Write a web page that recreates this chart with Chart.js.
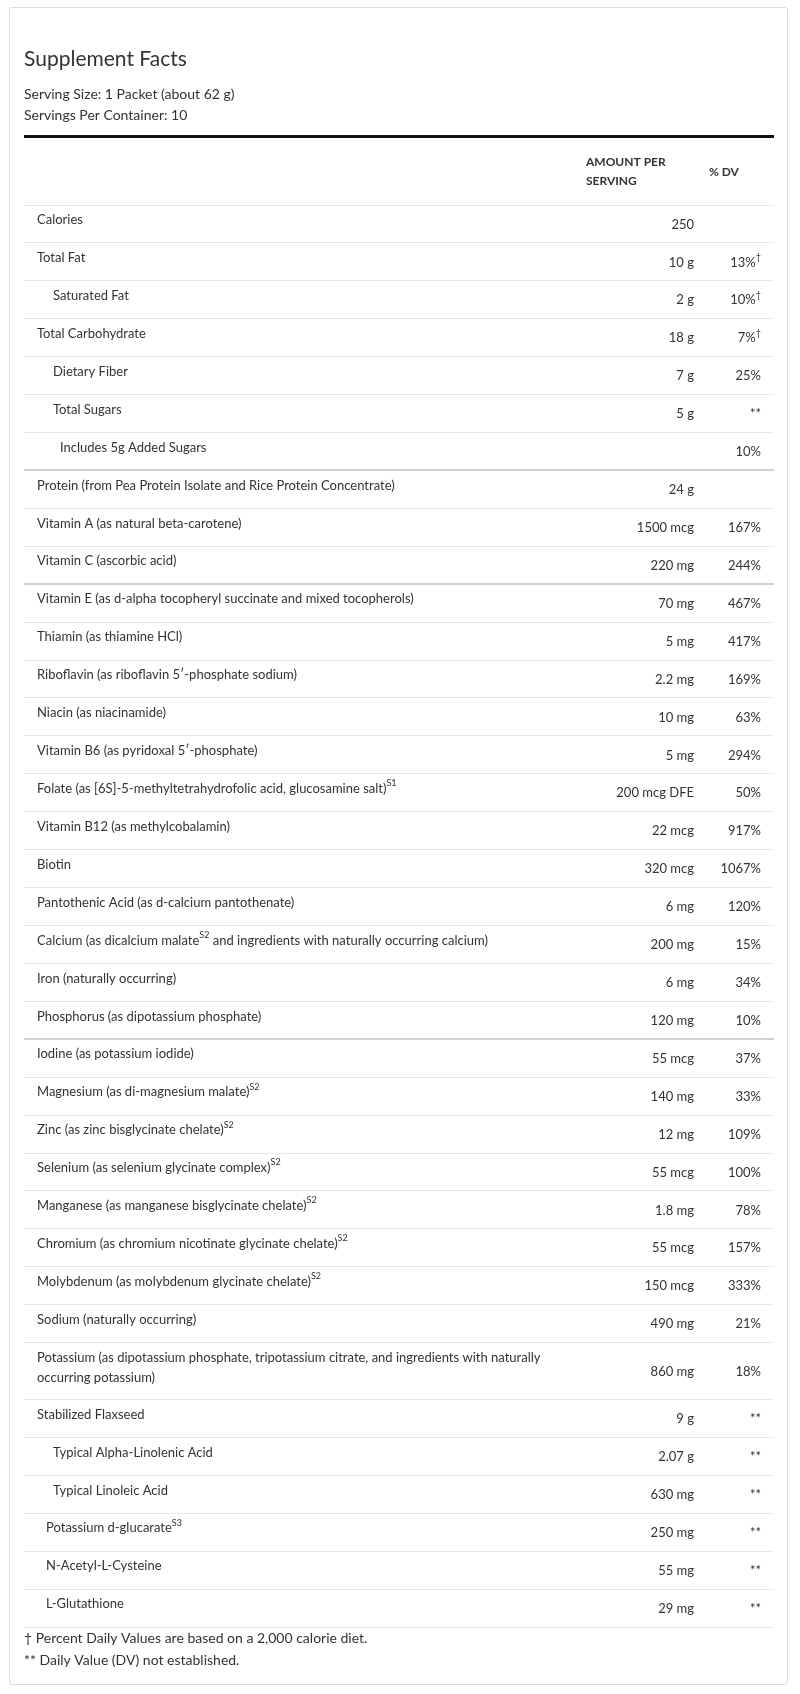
<!DOCTYPE html>
<html>
<head>
<meta charset="utf-8">
<title>Supplement Facts</title>
<script src="https://cdn.jsdelivr.net/npm/chart.js@4.4.1/dist/chart.umd.min.js"></script>
<style>
  html, body { margin: 0; padding: 0; background: #fff; }
  #card { position: absolute; left: 9px; top: 7px; width: 777px; height: 1676px; border: 1px solid #dedede; border-radius: 3px; }
  #factsChart { position: absolute; left: 0; top: 0; }
</style>
</head>
<body>
<div id="card"></div>
<canvas id="factsChart" width="800" height="1694"></canvas>
<script>
// {..} marks superscript text, \n marks a line break inside a cell
const nutrients = [
  'Calories',
  'Total Fat',
  'Saturated Fat',
  'Total Carbohydrate',
  'Dietary Fiber',
  'Total Sugars',
  'Includes 5g Added Sugars',
  'Protein (from Pea Protein Isolate and Rice Protein Concentrate)',
  'Vitamin A (as natural beta-carotene)',
  'Vitamin C (ascorbic acid)',
  'Vitamin E (as d-alpha tocopheryl succinate and mixed tocopherols)',
  'Thiamin (as thiamine HCl)',
  'Riboflavin (as riboflavin 5′-phosphate sodium)',
  'Niacin (as niacinamide)',
  'Vitamin B6 (as pyridoxal 5′-phosphate)',
  'Folate (as [6S]-5-methyltetrahydrofolic acid, glucosamine salt){S1}',
  'Vitamin B12 (as methylcobalamin)',
  'Biotin',
  'Pantothenic Acid (as d-calcium pantothenate)',
  'Calcium (as dicalcium malate{S2} and ingredients with naturally occurring calcium)',
  'Iron (naturally occurring)',
  'Phosphorus (as dipotassium phosphate)',
  'Iodine (as potassium iodide)',
  'Magnesium (as di-magnesium malate){S2}',
  'Zinc (as zinc bisglycinate chelate){S2}',
  'Selenium (as selenium glycinate complex){S2}',
  'Manganese (as manganese bisglycinate chelate){S2}',
  'Chromium (as chromium nicotinate glycinate chelate){S2}',
  'Molybdenum (as molybdenum glycinate chelate){S2}',
  'Sodium (naturally occurring)',
  'Potassium (as dipotassium phosphate, tripotassium citrate, and ingredients with naturally\noccurring potassium)',
  'Stabilized Flaxseed',
  'Typical Alpha-Linolenic Acid',
  'Typical Linoleic Acid',
  'Potassium d-glucarate{S3}',
  'N-Acetyl-L-Cysteine',
  'L-Glutathione'
];

const amounts = [
  '250', '10 g', '2 g', '18 g', '7 g', '5 g', '',
  '24 g', '1500 mcg', '220 mg', '70 mg', '5 mg', '2.2 mg', '10 mg', '5 mg',
  '200 mcg DFE', '22 mcg', '320 mcg', '6 mg', '200 mg', '6 mg', '120 mg',
  '55 mcg', '140 mg', '12 mg', '55 mcg', '1.8 mg', '55 mcg', '150 mcg',
  '490 mg', '860 mg', '9 g', '2.07 g', '630 mg', '250 mg', '55 mg', '29 mg'
];

const dailyValues = [
  '', '13%{†}', '10%{†}', '7%{†}', '25%', '**', '10%',
  '', '167%', '244%', '467%', '417%', '169%', '63%', '294%',
  '50%', '917%', '1067%', '120%', '15%', '34%', '10%',
  '37%', '33%', '109%', '100%', '78%', '157%', '333%',
  '21%', '18%', '**', '**', '**', '**', '**', '**'
];

// nesting of each row under the one above it
const indentLevels = [
  0, 0, 1, 0, 1, 1, 2,
  0, 0, 0, 0, 0, 0, 0, 0,
  0, 0, 0, 0, 0, 0, 0,
  0, 0, 0, 0, 0, 0, 0,
  0, 0, 0, 1, 1, 0.5, 0.5, 0.5
];

// a darker rule follows these rows (1-based count)
const sectionEnds = [7, 10, 22];

const servingLines = ['Serving Size: 1 Packet (about 62 g)', 'Servings Per Container: 10'];
const footnotes = ['† Percent Daily Values are based on a 2,000 calorie diet.', '** Daily Value (DV) not established.'];

// row extents on the y scale: one unit per text line plus one
const lineCounts = nutrients.map(n => n.split('\n').length);
const rowStarts = [];
let acc = 0;
lineCounts.forEach(c => { rowStarts.push(acc); acc += c + 1; });
const totalUnits = acc;
const rowEdges = rowStarts.concat([totalUnits]);
const heavyEdges = sectionEnds.map(k => rowStarts[k]);

const TEXT = '#333';
const FONT = 'Lato';
const indentPx = { 0: 13, 0.5: 22, 1: 29, 2: 36 };

function drawRich(ctx, text, x, y, align, size) {
  const parts = text.split(/(\{[^}]*\})/).filter(Boolean).map(p =>
    p.startsWith('{') ? { sup: true, t: p.slice(1, -1) } : { sup: false, t: p });
  const fontFor = p => (p.sup ? Math.round(size * 0.7) : size) + 'px ' + FONT;
  let w = 0;
  parts.forEach(p => { ctx.font = fontFor(p); w += ctx.measureText(p.t).width; });
  let cx = align === 'right' ? x - w : x;
  ctx.textAlign = 'left';
  parts.forEach(p => {
    ctx.font = fontFor(p);
    ctx.fillText(p.t, cx, p.sup ? y - size * 0.42 : y);
    cx += ctx.measureText(p.t).width;
  });
}

const tablePlugin = {
  id: 'factsTable',
  afterDraw(chart) {
    const ctx = chart.ctx;
    const area = chart.chartArea;
    const y = chart.scales.y;
    ctx.save();

    // heavy rule + column headings
    ctx.strokeStyle = '#111';
    ctx.lineWidth = 3;
    ctx.beginPath();
    ctx.moveTo(area.left, area.top - 68.5);
    ctx.lineTo(area.right, area.top - 68.5);
    ctx.stroke();

    const amountRight = area.right - 80;
    const dvRight = area.right - 13;
    ctx.fillStyle = TEXT;
    ctx.textBaseline = 'middle';
    ctx.textAlign = 'left';
    ctx.font = 'bold 12px ' + FONT;
    ctx.fillText('AMOUNT PER', amountRight - 108, area.top - 43);
    ctx.fillText('SERVING', amountRight - 108, area.top - 24);
    ctx.fillText('% DV', dvRight - 52, area.top - 33);

    nutrients.forEach((name, i) => {
      const top = y.getPixelForValue(rowStarts[i]);
      const bottom = y.getPixelForValue(rowStarts[i] + lineCounts[i] + 1);
      const mid = (top + bottom) / 2 + 0.5;
      name.split('\n').forEach((line, j) => {
        drawRich(ctx, line, area.left + indentPx[indentLevels[i]], top + 15 + j * 20, 'left', 13);
      });
      if (amounts[i]) drawRich(ctx, amounts[i], amountRight, mid, 'right', 13);
      if (dailyValues[i]) drawRich(ctx, dailyValues[i], dvRight, mid, 'right', 13);
    });

    ctx.font = '14px ' + FONT;
    ctx.textAlign = 'left';
    footnotes.forEach((t, j) => ctx.fillText(t, area.left, area.bottom + 11 + j * 22));
    ctx.restore();
  }
};

function build() {
  const ctx = document.getElementById('factsChart').getContext('2d');
  new Chart(ctx, {
    type: 'bar',
    data: { labels: [], datasets: [] },
    plugins: [tablePlugin],
    options: {
      responsive: false,
      animation: false,
      events: [],
      layout: { padding: { left: 24, right: 26, top: 0, bottom: 67 } },
      plugins: {
        legend: { display: false },
        tooltip: { enabled: false },
        title: {
          display: true,
          text: 'Supplement Facts',
          align: 'start',
          color: TEXT,
          font: { family: FONT, size: 21, weight: 'normal', lineHeight: 1.2 },
          padding: { top: 47, bottom: 10 }
        },
        subtitle: {
          display: true,
          text: servingLines,
          align: 'start',
          color: TEXT,
          font: { family: FONT, size: 14, lineHeight: 1.55 },
          padding: { top: 1, bottom: 78.4 }
        }
      },
      scales: {
        x: { type: 'linear', display: false, min: 0, max: 1 },
        y: {
          type: 'linear',
          reverse: true,
          min: 0,
          max: totalUnits,
          afterBuildTicks: scale => { scale.ticks = rowEdges.map(v => ({ value: v })); },
          ticks: { display: false },
          border: { display: false },
          grid: {
            drawTicks: false,
            tickLength: 0,
            color: c => heavyEdges.includes(c.tick.value) ? '#d0d0d0' : '#e8e8e8',
            lineWidth: c => heavyEdges.includes(c.tick.value) ? 2 : 1
          }
        }
      }
    }
  });
}

Promise.all([
  document.fonts.load('13px Lato'),
  document.fonts.load('bold 12px Lato')
]).then(build, build);
</script>
</body>
</html>
